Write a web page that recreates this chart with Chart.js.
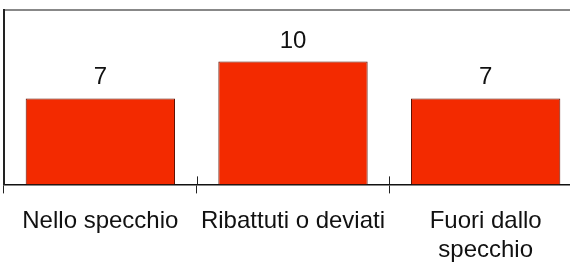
<!DOCTYPE html>
<html>
<head>
<meta charset="utf-8">
<script src="https://cdn.jsdelivr.net/npm/chart.js@4/dist/chart.umd.min.js"></script>
<style>
  html, body { margin: 0; padding: 0; background: #fff; overflow: hidden; }
  #wrap { width: 582px; height: 279px; }
</style>
</head>
<body>
<div id="wrap"><canvas id="chart" width="582" height="279"></canvas></div>
<script>
const categories = ["Nello specchio", "Ribattuti o deviati", ["Fuori dallo", "specchio"]];
const values = [7, 10, 7];
const yMax = 14.2;

const FONT = "'Liberation Sans', Arial, Helvetica, sans-serif";

// value labels above the bars
const valueLabels = {
  id: "valueLabels",
  afterDatasetsDraw(chart) {
    const ctx = chart.ctx;
    const meta = chart.getDatasetMeta(0);
    ctx.save();
    ctx.font = "24px " + FONT;
    ctx.fillStyle = "#111";
    ctx.textAlign = "center";
    ctx.textBaseline = "alphabetic";
    meta.data.forEach((bar, i) => {
      ctx.fillText(String(values[i]), bar.x, bar.y - 14);
    });
    ctx.restore();
  },
};

// tick marks between categories that cross the axis line
const crossTicks = {
  id: "crossTicks",
  afterDraw(chart) {
    const ctx = chart.ctx;
    const scale = chart.scales.x;
    const bottom = chart.chartArea.bottom;
    ctx.save();
    ctx.strokeStyle = "#222";
    ctx.lineWidth = 1;
    for (let i = 1; i < categories.length; i++) {
      const x = Math.round((scale.getPixelForTick(i - 1) + scale.getPixelForTick(i)) / 2) + 0.5;
      ctx.beginPath();
      ctx.moveTo(x, bottom - 8);
      ctx.lineTo(x, bottom);
      ctx.stroke();
    }
    ctx.restore();
  },
};

new Chart(document.getElementById("chart"), {
  type: "bar",
  data: {
    labels: categories,
    datasets: [
      {
        data: values,
        backgroundColor: "#f32a00",
        borderColor: "#5e1000",
        borderWidth: 1,
        barPercentage: 0.775,
        categoryPercentage: 1,
      },
    ],
  },
  options: {
    responsive: false,
    devicePixelRatio: 1,
    animation: false,
    layout: {
      padding: { left: 4, top: 10, right: 0, bottom: 0 },
    },
    plugins: {
      legend: { display: false },
      tooltip: { enabled: false },
    },
    scales: {
      x: {
        position: "bottom",
        offset: true,
        grid: {
          display: true,
          drawOnChartArea: false,
          drawTicks: true,
          tickLength: 9,
          color: "#222",
          lineWidth: 1,
          offset: true,
        },
        border: { display: true, color: "#111", width: 1.5 },
        ticks: {
          color: "#111",
          padding: 14,
          maxRotation: 0,
          autoSkip: false,
          font: { family: FONT, size: 24, lineHeight: 1.2 },
        },
      },
      x2: {
        position: "top",
        type: "category",
        labels: categories,
        grid: { display: false, drawTicks: false },
        ticks: { display: false },
        border: { display: true, color: "#888", width: 2 },
      },
      y: {
        min: 0,
        max: yMax,
        grid: { display: false, drawTicks: false },
        ticks: { display: false },
        border: { display: true, color: "#222", width: 2 },
      },
    },
  },
  plugins: [valueLabels, crossTicks],
});
</script>
</body>
</html>
